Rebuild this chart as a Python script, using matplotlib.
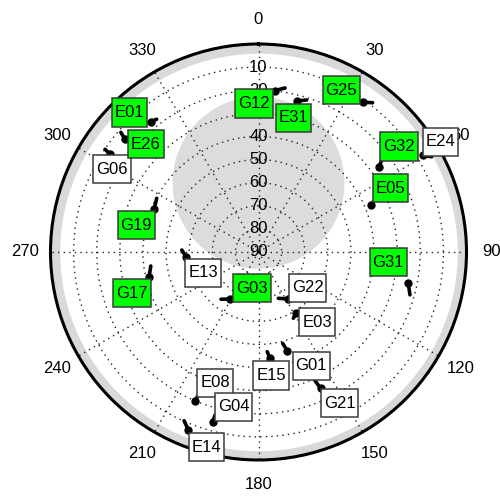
import numpy as np
import matplotlib
matplotlib.use("Agg")
import matplotlib.pyplot as plt
from matplotlib.path import Path

plt.rcParams['font.family'] = ['Liberation Sans', 'DejaVu Sans']

# satellites: current azimuth/elevation plus the previous point of the track
sat_ids = ['G12', 'E31', 'G25', 'E24', 'G32', 'E05', 'G31', 'G22', 'E03', 'G01',
           'E15', 'G21', 'G03', 'E08', 'G04', 'E14', 'E13', 'G17', 'G19', 'G06',
           'E26', 'E01']
sat_az = [5.8, 14.2, 35.0, 59.4, 54.7, 67.3, 101.8, 148.2, 148.5, 163.7,
          173.8, 155.5, 211.2, 203.1, 195.1, 201.5, 266.3, 257.0, 292.4, 303.4,
          310.2, 320.4]
sat_el = [19.8, 22.6, 10.9, 7.5, 26.1, 37.4, 23.8, 66.1, 58.9, 45.5,
          43.7, 25.2, 66.2, 20.0, 13.9, 7.2, 58.6, 41.4, 41.2, 13.0,
          14.3, 16.8]
prev_az = [9.2, 17.6, 37.4, 61.2, 53.3, 65.9, 105.8, 156.8, 152.3, 165.2,
           175.0, 156.3, 218.4, 202.8, 194.9, 203.8, 271.5, 262.6, 297.8, 303.8,
           311.0, 322.5]
prev_el = [18.1, 21.0, 8.7, 4.5, 23.5, 34.8, 21.9, 68.2, 57.6, 49.1,
           46.7, 29.2, 63.9, 22.9, 17.0, 10.2, 56.8, 43.0, 40.2, 10.1,
           11.1, 17.6]
sat_used = [True, True, True, False, True, True, True, False, False, False,
            False, False, True, False, False, False, False, True, True, False,
            True, True]

# elevation mask ring and the sky region without satellite coverage
mask_el = 4.0
hole_el, hole_az, hole_radius = 60.0, 0.0, 37.2

az_ticks = list(range(0, 360, 30))
el_ticks = list(range(10, 100, 10))

# label placement (pixels from the satellite marker)
label_dx = [-21, -3, -22, 18, 20, 20, -20, 20, 21, 24,
            1, 19, 22, 20, 21, 18, 17, -17, -18, 2,
            21, -21]
label_dy = [-13, -17, 12, 13, 20, 17, 21, 11, -9, -15,
            -17, -15, 11, 18, 15, -17, -16, -16, -16, -15,
            -5, 9]


def label_box(x0, y0, width, height, mutation_size):
    # plain rectangle, taller padding than wide
    px = 0.17 * mutation_size
    py = 0.40 * mutation_size
    x0, x1 = x0 - px, x0 + width + px
    y0, y1 = y0 - py, y0 + height + py
    return Path([(x0, y0), (x1, y0), (x1, y1), (x0, y1), (x0, y0)], closed=True)


fig = plt.figure(figsize=(5.0, 4.96), dpi=100)
ax = fig.add_axes([0.101, 0.0726, 0.832, 0.8387], projection='polar')
ax.set_theta_zero_location('N')
ax.set_theta_direction(-1)
ax.set_ylim(0, 90)

# grid
ax.set_xticks(np.radians(az_ticks))
ax.set_yticks([90 - e for e in el_ticks[:-1]])
ax.set_xticklabels([])
ax.set_yticklabels([])
ax.grid(True, linestyle=(0, (1, 3)), color='#222222', linewidth=1.0)
ax.tick_params(length=0)
ax.spines['polar'].set_linewidth(2.2)

# elevation mask ring
th = np.linspace(0, 2 * np.pi, 361)
ax.fill_between(th, 90 - mask_el, 90, color='#d9d9d9', lw=0, zorder=0.8)

# coverage hole
t = np.linspace(0, 2 * np.pi, 361)
hx = (90 - hole_el) * np.sin(np.radians(hole_az)) + hole_radius * np.cos(t)
hy = (90 - hole_el) * np.cos(np.radians(hole_az)) + hole_radius * np.sin(t)
ax.fill(np.arctan2(hx, hy), np.hypot(hx, hy), color='#dcdcdc', lw=0, zorder=0.8)

# azimuth labels
for a in az_ticks:
    ax.text(np.radians(a), 100.8, str(a), ha='center', va='center',
            fontsize=12, clip_on=False, zorder=2)

# elevation labels along north
for e in el_ticks:
    ax.text(0, 90 - e, str(e), ha='center', va='center', fontsize=12, zorder=2)

# satellite tracks, markers and labels
for i, sid in enumerate(sat_ids):
    th_now, r_now = np.radians(sat_az[i]), 90 - sat_el[i]
    th_old, r_old = np.radians(prev_az[i]), 90 - prev_el[i]
    ax.plot([th_old, th_now], [r_old, r_now], color='black', lw=2.6,
            solid_capstyle='round', zorder=4)
    ax.plot(th_now, r_now, 'o', color='black', markersize=5, zorder=4)
    ax.annotate(sid, (th_now, r_now), xytext=(label_dx[i], label_dy[i]),
                textcoords='offset pixels', ha='center', va='center',
                fontsize=12, zorder=5,
                bbox=dict(boxstyle=label_box,
                          fc='#00ff00' if sat_used[i] else 'white',
                          ec='#3a3a3a', lw=1.1))

fig.savefig('out.png', dpi=100)
